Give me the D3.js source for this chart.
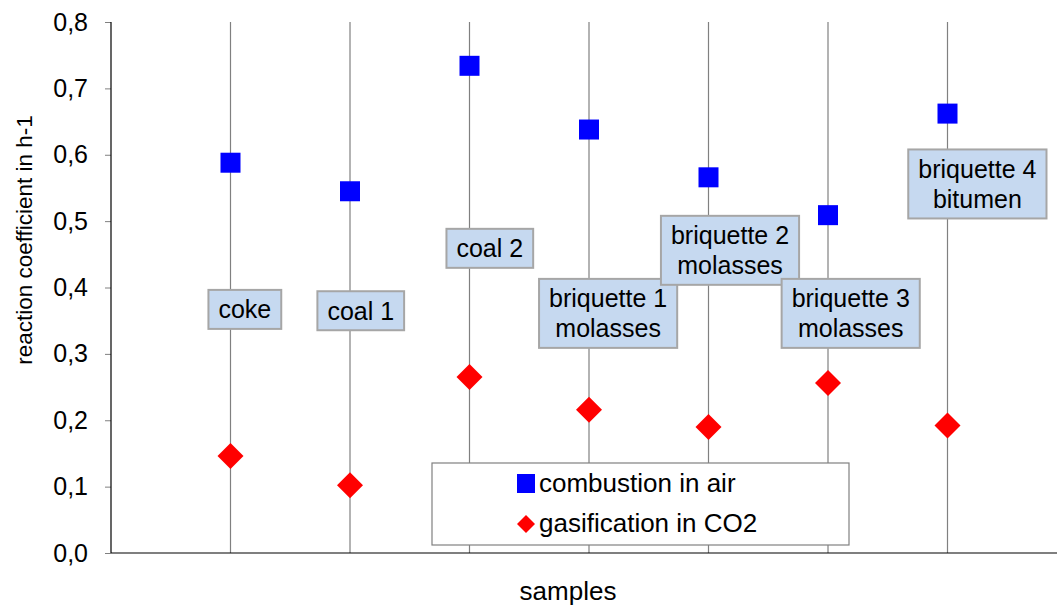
<!DOCTYPE html>
<meta charset="utf-8">
<style>
  body { margin: 0; background: #fff; }
  text { font-family: Arial, "Liberation Sans", sans-serif; }
</style>
<svg width="1057" height="607"></svg>
<script src="https://d3js.org/d3.v7.min.js"></script>
<script>

// data
var samples = ["coke", "coal 1", "coal 2", "briquette 1 molasses", "briquette 2 molasses", "briquette 3 molasses", "briquette 4 bitumen"];
var combustion = [0.588, 0.545, 0.734, 0.638, 0.566, 0.509, 0.662];
var gasification = [0.146, 0.102, 0.265, 0.216, 0.190, 0.256, 0.192];
var yTicks = [0, 0.1, 0.2, 0.3, 0.4, 0.5, 0.6, 0.7, 0.8];

// label boxes: text lines, centre given as (index offset, y value)
var labelLines = [["coke"], ["coal 1"], ["coal 2"], ["briquette 1", "molasses"], ["briquette 2", "molasses"], ["briquette 3", "molasses"], ["briquette 4", "bitumen"]];
var labelY = [0.367, 0.365, 0.459, 0.361, 0.456, 0.361, 0.556];
var labelDx = [0.12, 0.09, 0.17, 0.16, 0.18, 0.19, 0.25];

var svg = d3.select("svg");
var mLeft = 111, mTop = 22, mBottom = 553;

var x = d3.scaleLinear().domain([0, 8]).range([mLeft, mLeft + 8 * 119.5]);
var y = d3.scaleLinear().domain([0, 0.8]).range([mBottom, mTop]);

// vertical drop lines at each sample
svg.append("g")
  .selectAll("line")
  .data(samples)
  .enter().append("line")
    .attr("x1", function(d, i) { return x(i + 1); })
    .attr("x2", function(d, i) { return x(i + 1); })
    .attr("y1", y(0.8))
    .attr("y2", y(0))
    .attr("stroke", "#808080")
    .attr("stroke-width", 1.2);

// y axis
var yAxis = d3.axisLeft(y)
  .tickValues(yTicks)
  .tickSize(6)
  .tickPadding(17)
  .tickFormat(function(d) { return d3.format(".1f")(d).replace(".", ","); });

var ya = svg.append("g")
  .attr("transform", "translate(" + mLeft + ",0)")
  .call(yAxis);
ya.attr("font-size", 25).attr("font-family", null);
ya.select(".domain").remove();
ya.selectAll(".tick line").attr("stroke", "#808080");
ya.selectAll("text").attr("fill", "#000");
svg.append("line")
  .attr("x1", mLeft).attr("x2", mLeft)
  .attr("y1", mTop).attr("y2", mBottom)
  .attr("stroke", "#000").attr("stroke-width", 1.2);
svg.append("line")
  .attr("x1", mLeft).attr("x2", 1057)
  .attr("y1", mBottom).attr("y2", mBottom)
  .attr("stroke", "#000").attr("stroke-width", 1.2);

// axis titles
svg.append("text")
  .attr("transform", "translate(32," + 240 + ") rotate(-90)")
  .attr("text-anchor", "middle")
  .attr("font-size", 22.5)
  .text("reaction coefficient in h-1");
svg.append("text")
  .attr("x", 568).attr("y", 600)
  .attr("text-anchor", "middle")
  .attr("font-size", 26)
  .text("samples");

// label boxes
var lab = svg.append("g")
  .selectAll("g")
  .data(labelLines)
  .enter().append("g")
    .attr("transform", function(d, i) { return "translate(" + x(i + 1 + labelDx[i]) + "," + y(labelY[i]) + ")"; });

lab.each(function(lines) {
  var g = d3.select(this);
  var t = g.append("text")
    .attr("text-anchor", "middle")
    .attr("font-size", 25)
    .attr("fill", "#000");
  var n = lines.length;
  lines.forEach(function(s, k) {
    t.append("tspan")
      .attr("x", 0)
      .attr("y", (k - (n - 1) / 2) * 30 + 9)
      .text(s);
  });
  var bb = t.node().getBBox();
  var h = n * 30 + 9;
  g.insert("rect", "text")
    .attr("x", -bb.width / 2 - 10)
    .attr("y", -h / 2)
    .attr("width", bb.width + 20)
    .attr("height", h)
    .attr("fill", "#c6d9f0")
    .attr("stroke", "#a6a6a6")
    .attr("stroke-width", 2);
});

// markers
var sq = 20, dm = 13;
svg.append("g")
  .selectAll("rect")
  .data(combustion)
  .enter().append("rect")
    .attr("x", function(d, i) { return x(i + 1) - sq / 2; })
    .attr("y", function(d) { return y(d) - sq / 2; })
    .attr("width", sq)
    .attr("height", sq)
    .attr("fill", "#0000ff");

svg.append("g")
  .selectAll("path")
  .data(gasification)
  .enter().append("path")
    .attr("d", function(d, i) {
      var cx = x(i + 1), cy = y(d);
      return "M" + cx + "," + (cy - dm) + "L" + (cx + dm) + "," + cy + "L" + cx + "," + (cy + dm) + "L" + (cx - dm) + "," + cy + "Z";
    })
    .attr("fill", "#ff0000");

// legend
var leg = svg.append("g").attr("transform", "translate(432,463)");
leg.append("rect")
  .attr("width", 417).attr("height", 82)
  .attr("fill", "#fff")
  .attr("stroke", "#808080")
  .attr("stroke-width", 1.2);
leg.append("rect")
  .attr("x", 85).attr("y", 11).attr("width", 18).attr("height", 19)
  .attr("fill", "#0000ff");
leg.append("path")
  .attr("d", "M94,52L103,61L94,70L85,61Z")
  .attr("fill", "#ff0000");
leg.append("text")
  .attr("x", 107).attr("y", 29)
  .attr("font-size", 26)
  .text("combustion in air");
leg.append("text")
  .attr("x", 107).attr("y", 69)
  .attr("font-size", 26)
  .text("gasification in CO2");

</script>
